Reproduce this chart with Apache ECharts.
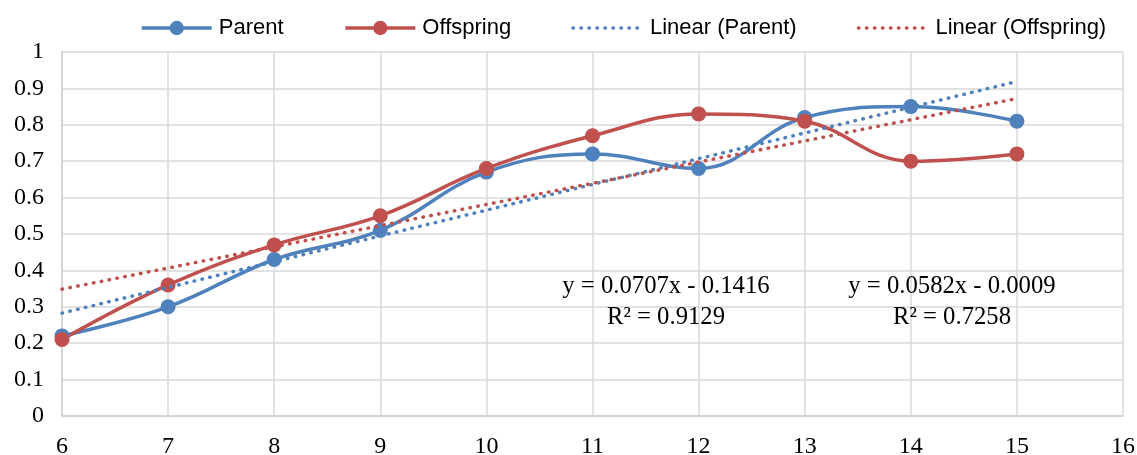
<!DOCTYPE html>
<html><head><meta charset="utf-8">
<script src="https://cdn.jsdelivr.net/npm/echarts@6/dist/echarts.min.js"></script>
<style>html,body{margin:0;padding:0;background:#fff}#c{width:1137px;height:455px}</style>
</head><body><div id="c"></div>
<script>
var xValues = [6, 7, 8, 9, 10, 11, 12, 13, 14, 15];
var parentValues = [0.22, 0.30, 0.43, 0.51, 0.67, 0.72, 0.68, 0.82, 0.85, 0.81];
var offspringValues = [0.21, 0.36, 0.47, 0.55, 0.68, 0.77, 0.83, 0.81, 0.70, 0.72];
var trendX = [6, 15];
var parentTrend = [0.2826, 0.9189];
var offspringTrend = [0.3483, 0.8721];
var seriesNames = ['Parent', 'Offspring', 'Linear (Parent)', 'Linear (Offspring)'];
var eqParent = ['y = 0.0707x - 0.1416', 'R² = 0.9129'];
var eqOffspring = ['y = 0.0582x - 0.0009', 'R² = 0.7258'];

var blue = '#4F81BD', red = '#C0504D';
function pairs(xs, ys) { return xs.map(function (x, i) { return [x, ys[i]]; }); }

var chart = echarts.init(document.getElementById('c'));
var serif = '"Liberation Serif", "Times New Roman", serif';
var dotted = { type: [0.5, 7.5], cap: 'round', width: 3.5 };
chart.setOption({
  animation: false,
  legend: {
    left: 135, top: 12,
    itemWidth: 70, itemHeight: 18, itemGap: 60,
    textStyle: { fontFamily: '"Liberation Sans", Arial, sans-serif', fontSize: 22, color: '#000', padding: [0, 0, 0, 2] },
    lineStyle: { width: 3.5 },
    data: [
      { name: seriesNames[0] },
      { name: seriesNames[1] },
      { name: seriesNames[2], itemStyle: { opacity: 0 } },
      { name: seriesNames[3], itemStyle: { opacity: 0 } }
    ]
  },
  grid: { left: 62, right: 14, top: 52, bottom: 39, outerBoundsMode: 'none', containLabel: false },
  xAxis: {
    type: 'value', min: 6, max: 16, interval: 1,
    axisLine: { lineStyle: { color: '#d0d0d0', width: 1.5 } },
    axisTick: { show: false },
    splitLine: { lineStyle: { color: '#d9d9d9', width: 1.5 } },
    axisLabel: { fontFamily: serif, fontSize: 24, color: '#000', margin: 19 }
  },
  yAxis: {
    type: 'value', min: 0, max: 1, interval: 0.1,
    axisLine: { show: true, lineStyle: { color: '#d0d0d0', width: 1.5 } },
    axisTick: { show: false },
    splitLine: { lineStyle: { color: '#d9d9d9', width: 1.5 } },
    axisLabel: { fontFamily: serif, fontSize: 24, color: '#000', margin: 18 }
  },
  series: [
    { name: seriesNames[0], type: 'line', smooth: 0.4, data: pairs(xValues, parentValues),
      symbol: 'circle', symbolSize: 15, itemStyle: { color: blue }, lineStyle: { color: blue, width: 3.5 }, z: 3 },
    { name: seriesNames[1], type: 'line', smooth: 0.4, data: pairs(xValues, offspringValues),
      symbol: 'circle', symbolSize: 15, itemStyle: { color: red }, lineStyle: { color: red, width: 3.5 }, z: 3 },
    { name: seriesNames[2], type: 'line', data: pairs(trendX, parentTrend), symbol: 'none',
      itemStyle: { color: blue }, lineStyle: Object.assign({ color: blue }, dotted), z: 4 },
    { name: seriesNames[3], type: 'line', data: pairs(trendX, offspringTrend), symbol: 'none',
      itemStyle: { color: red }, lineStyle: Object.assign({ color: red }, dotted), z: 4 }
  ]
});
var eqStyle = { fontFamily: serif, fontSize: 24.7, fill: '#000', align: 'center', verticalAlign: 'middle', lineHeight: 31 };
chart.setOption({
  graphic: [
    { type: 'text', x: 666, y: 302, style: Object.assign({ text: eqParent.join('\n') }, eqStyle), z: 10 },
    { type: 'text', x: 952, y: 302, style: Object.assign({ text: eqOffspring.join('\n') }, eqStyle), z: 10 }
  ]
});
</script></body></html>
